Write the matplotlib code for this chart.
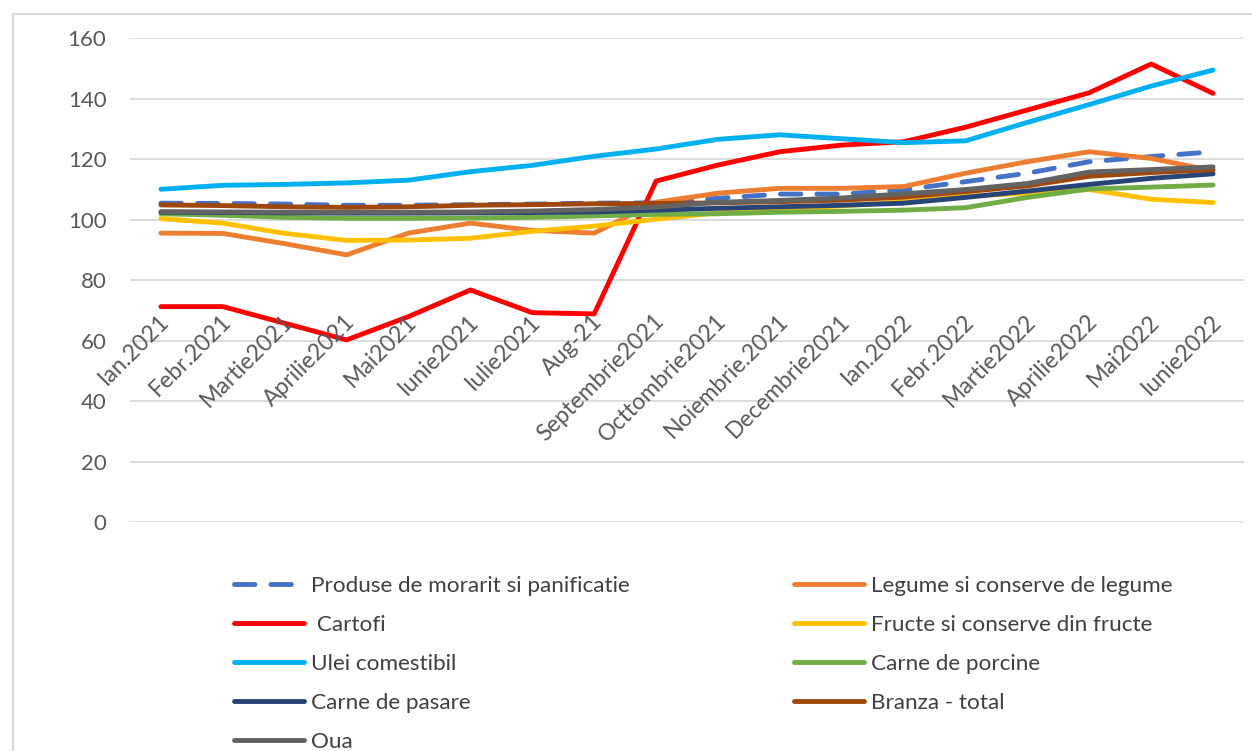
import numpy as np
import matplotlib.pyplot as plt
from matplotlib.lines import Line2D

plt.rcParams['font.family'] = ['Lato', 'DejaVu Sans']

months = ['Ian.2021', 'Febr.2021', 'Martie2021', 'Aprilie2021', 'Mai2021',
          'Iunie2021', 'Iulie2021', 'Aug-21', 'Septembrie2021', 'Octtombrie2021',
          'Noiembrie.2021', 'Decembrie2021', 'Ian.2022', 'Febr.2022', 'Martie2022',
          'Aprilie2022', 'Mai2022', 'Iunie2022']

produse = [105.5, 105.4, 105.2, 104.8, 104.8, 105.0, 105.2, 105.5, 105.6,
           107.1, 108.5, 108.5, 109.9, 112.6, 115.4, 119.2, 120.9, 122.5]
legume = [95.6, 95.5, 92.1, 88.4, 95.6, 98.9, 96.5, 95.6, 105.8,
          108.8, 110.4, 110.4, 111.0, 115.4, 119.2, 122.5, 120.3, 116.2]
cartofi = [71.3, 71.3, 65.8, 60.3, 68.0, 76.8, 69.3, 68.9, 112.8,
           118.1, 122.5, 124.7, 125.8, 130.6, 136.3, 142.0, 151.5, 141.8]
fructe = [100.4, 98.9, 95.5, 93.2, 93.3, 93.9, 96.2, 97.9, 100.2,
          102.3, 103.5, 104.6, 106.0, 107.8, 108.8, 110.0, 106.8, 105.7]
ulei = [110.1, 111.4, 111.7, 112.2, 113.1, 115.9, 118.0, 121.0, 123.4,
        126.6, 128.1, 126.8, 125.5, 126.1, 132.2, 138.1, 144.2, 149.5]
porcine = [102.0, 101.5, 100.8, 100.5, 100.5, 100.6, 100.8, 101.3, 101.8,
           102.0, 102.5, 102.8, 103.2, 104.0, 107.4, 110.2, 110.8, 111.5]
pasare = [102.5, 102.4, 102.3, 102.2, 102.2, 102.3, 102.4, 102.6, 103.2,
          103.8, 104.3, 104.8, 105.5, 107.4, 109.5, 111.7, 113.7, 115.2]
branza = [104.9, 104.7, 104.3, 104.1, 104.3, 104.8, 105.0, 105.3, 105.4,
          105.6, 106.0, 106.5, 107.5, 109.3, 111.2, 114.4, 115.6, 116.6]
oua = [102.7, 102.6, 102.5, 102.5, 102.5, 102.6, 102.9, 103.4, 104.2,
       105.8, 106.4, 107.2, 108.6, 110.0, 112.0, 115.8, 116.6, 117.5]

fig = plt.figure(figsize=(12.52, 7.51), dpi=100)
ax = fig.add_axes([130 / 1252, 1 - 522.3 / 751, 1114 / 1252, 484 / 751])

x = np.arange(len(months))
lw = 3.5

# series in excel order, last one on top
l_prod, = ax.plot(x, produse, color='#4472C4', lw=lw, ls=(0, (4.2, 3.3)),
                  label='Produse de morarit si panificatie')
l_leg, = ax.plot(x, legume, color='#ED7D31', lw=lw, label='Legume si conserve de legume')
l_cart, = ax.plot(x, cartofi, color='#FF0000', lw=lw, label=' Cartofi')
l_fru, = ax.plot(x, fructe, color='#FFC000', lw=lw, label='Fructe si conserve din fructe')
l_ulei, = ax.plot(x, ulei, color='#00B0F0', lw=lw, label='Ulei comestibil')
l_porc, = ax.plot(x, porcine, color='#70AD47', lw=lw, label='Carne de porcine')
l_pas, = ax.plot(x, pasare, color='#264478', lw=lw, label='Carne de pasare')
l_bra, = ax.plot(x, branza, color='#9E480E', lw=lw, label='Branza - total')
l_oua, = ax.plot(x, oua, color='#636363', lw=lw, label='Oua')

for l in ax.get_lines():
    l.set_solid_capstyle('round')
    l.set_dash_capstyle('round')

ax.set_xlim(-0.5, len(months) - 0.5)
ax.set_ylim(0, 160)
ax.set_yticks(np.arange(0, 161, 20))
ax.set_xticks([])
ax.yaxis.grid(True, color='#D9D9D9', lw=1.3)
ax.set_axisbelow(True)
for s in ax.spines.values():
    s.set_visible(False)
ax.tick_params(axis='y', length=0, pad=17, labelsize=16, labelcolor='#595959')

# category labels sit inside the plot area, as in the original
for i, m in enumerate(months):
    ax.text(i + 0.08, 67.5, m, rotation=45, rotation_mode='anchor',
            ha='right', va='center', fontsize=16.6, color='#595959')

# legend: two columns, filled column-wise
handles = [l_prod, l_cart, l_ulei, l_pas, l_oua, l_leg, l_fru, l_porc, l_bra]
fig.legend(handles=handles, labels=[h.get_label() for h in handles],
           loc='upper left', bbox_to_anchor=(225 / 1252, 1 - 567 / 751),
           ncol=2, frameon=False, fontsize=16.2, labelcolor='#404040',
           handlelength=3.1, handletextpad=0.33, labelspacing=0.84,
           columnspacing=7.3, borderaxespad=0)

# chart border (left and top visible)
fig.add_artist(Line2D([13 / 1252, 13 / 1252], [0, 1 - 14 / 751],
                      color='#D9D9D9', lw=1.5, transform=fig.transFigure))
fig.add_artist(Line2D([13 / 1252, 1], [1 - 14 / 751, 1 - 14 / 751],
                      color='#D9D9D9', lw=1.5, transform=fig.transFigure))

fig.savefig('out.png', dpi=100)
